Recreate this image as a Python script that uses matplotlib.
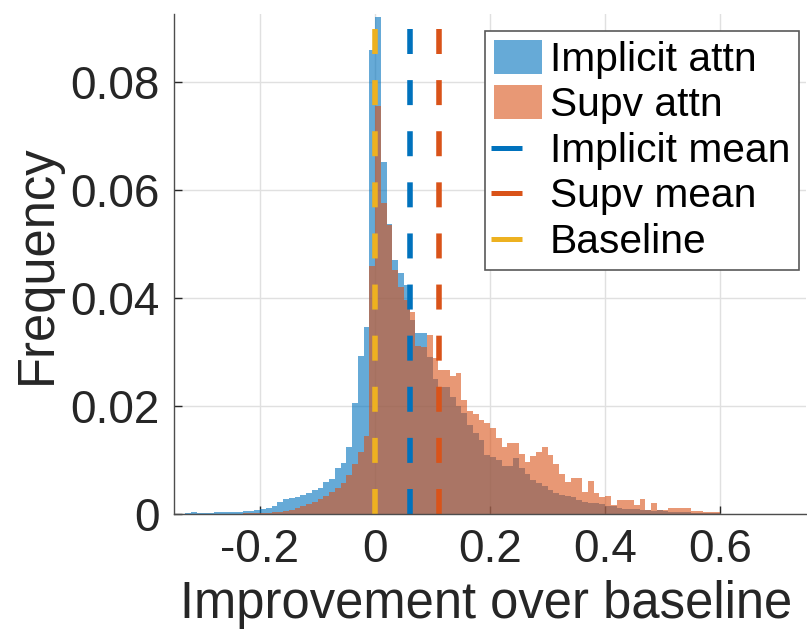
import numpy as np
import matplotlib
matplotlib.use("Agg")
import matplotlib.pyplot as plt
from matplotlib.lines import Line2D
from matplotlib.patches import Patch
from matplotlib.legend_handler import HandlerBase

# histogram bin heights (probability), bin width 0.01
bin_width = 0.01
implicit_start = -0.33
implicit_freq = [
    0.0002, 0.0003, 0.0002, 0.0002, 0.0002, 0.0003, 0.0003, 0.0004, 0.0003, 0.0004,
    0.0005, 0.0005, 0.0007, 0.0010, 0.0012, 0.0015, 0.0023, 0.0027, 0.0029, 0.0032,
    0.0035, 0.0038, 0.0044, 0.0049, 0.0060, 0.0064, 0.0085, 0.0094, 0.0125, 0.0205,
    0.0293, 0.0347, 0.0859, 0.0920, 0.0651, 0.0537, 0.0470, 0.0447, 0.0424, 0.0360,
    0.0335, 0.0335, 0.0290, 0.0250, 0.0236, 0.0236, 0.0217, 0.0200, 0.0187, 0.0165,
    0.0150, 0.0137, 0.0110, 0.0105, 0.0100, 0.0088, 0.0088, 0.0103, 0.0086, 0.0075,
    0.0063, 0.0057, 0.0052, 0.0044, 0.0038, 0.0035, 0.0033, 0.0032, 0.0026, 0.0023,
    0.0021, 0.0020, 0.0018, 0.0015, 0.0014, 0.0012, 0.0010, 0.0010, 0.0010, 0.0007,
    0.0007, 0.0006, 0.0007, 0.0005, 0.0004, 0.0003, 0.0003, 0.0003, 0.0002, 0.0002,
    0.0002, 0.0001, 0.0001,
]
supv_start = -0.23
supv_freq = [
    0.0001, 0.0002, 0.0002, 0.0002, 0.0002, 0.0003, 0.0004, 0.0006, 0.0008, 0.0011,
    0.0014, 0.0018, 0.0022, 0.0027, 0.0033, 0.0040, 0.0048, 0.0058, 0.0072, 0.0092,
    0.0115, 0.0145, 0.0460, 0.0756, 0.0576, 0.0535, 0.0452, 0.0420, 0.0396, 0.0375,
    0.0312, 0.0310, 0.0331, 0.0289, 0.0267, 0.0267, 0.0256, 0.0261, 0.0212, 0.0190,
    0.0186, 0.0175, 0.0168, 0.0160, 0.0140, 0.0125, 0.0132, 0.0132, 0.0112, 0.0097,
    0.0108, 0.0115, 0.0125, 0.0110, 0.0092, 0.0075, 0.0060, 0.0066, 0.0066, 0.0040,
    0.0062, 0.0038, 0.0032, 0.0033, 0.0017, 0.0026, 0.0026, 0.0026, 0.0017, 0.0027,
    0.0007, 0.0021, 0.0007, 0.0007, 0.0011, 0.0011, 0.0011, 0.0011, 0.0006, 0.0006,
    0.0004, 0.0004, 0.0004,
]
implicit_mean = 0.061
supv_mean = 0.111
baseline = 0.0

legend_labels = ["Implicit attn", "Supv attn", "Implicit mean", "Supv mean", "Baseline"]
xtick_vals = [-0.2, 0, 0.2, 0.4, 0.6]
xtick_labels = ["-0.2", "0", "0.2", "0.4", "0.6"]
ytick_vals = [0, 0.02, 0.04, 0.06, 0.08]
ytick_labels = ["0", "0.02", "0.04", "0.06", "0.08"]

c_blue = "#0072BD"
c_orange = "#D95319"
c_yellow = "#EDB120"
c_text = "#262626"

plt.rcParams["font.family"] = ["Liberation Sans", "DejaVu Sans"]


class ShortLine(HandlerBase):
    # matlab draws the line handles shorter than the patch handles
    def create_artists(self, legend, orig_handle, xdescent, ydescent,
                       width, height, fontsize, trans):
        y = height / 2 - ydescent
        seg = Line2D([-xdescent - 0.06 * width, -xdescent + 0.58 * width], [y, y],
                     color=orig_handle.get_color(), lw=orig_handle.get_linewidth(),
                     solid_capstyle="butt")
        seg.set_transform(trans)
        return [seg]


def edges_for(start, n):
    return np.round(start + bin_width * np.arange(n + 1), 2)


fig = plt.figure(figsize=(8.07, 6.31), dpi=100)
ax = fig.add_axes([173.75 / 807, (631 - 514) / 631, 632.5 / 807, 500 / 631])

ax.stairs(implicit_freq, edges_for(implicit_start, len(implicit_freq)),
          fill=True, color=c_blue, alpha=0.6, lw=0)
ax.stairs(supv_freq, edges_for(supv_start, len(supv_freq)),
          fill=True, color=c_orange, alpha=0.6, lw=0)

dash = (4.5, 4.7)
ax.axvline(implicit_mean, color=c_blue, lw=4, dashes=dash)
ax.axvline(supv_mean, color=c_orange, lw=4, dashes=dash)
ax.axvline(baseline, color=c_yellow, lw=4, dashes=dash)

ax.set_xlim(-0.35, 0.75)
ax.set_ylim(0, 0.0926)
ax.set_xticks(xtick_vals)
ax.set_xticklabels(xtick_labels)
ax.set_yticks(ytick_vals)
ax.set_yticklabels(ytick_labels)
ax.tick_params(direction="in", length=6, width=1, colors=c_text,
               labelsize=33, pad=10)

ax.grid(True, color="#e0e0e0", lw=1)
ax.set_axisbelow(True)
for side in ["top", "right"]:
    ax.spines[side].set_visible(False)
for side in ["left", "bottom"]:
    ax.spines[side].set_color("0.3")
    ax.spines[side].set_linewidth(1)

ax.set_xlabel("Improvement over baseline", fontsize=36.5, color=c_text)
ax.xaxis.set_label_coords(0.4937, -0.132)
ax.set_ylabel("Frequency", fontsize=36.5, color=c_text)
ax.yaxis.set_label_coords(-0.177, 0.5)

handles = [
    Patch(facecolor=c_blue, alpha=0.6, edgecolor="none"),
    Patch(facecolor=c_orange, alpha=0.6, edgecolor="none"),
    Line2D([], [], color=c_blue, lw=3.6),
    Line2D([], [], color=c_orange, lw=3.6),
    Line2D([], [], color=c_yellow, lw=3.6),
]
leg = ax.legend(handles, legend_labels, loc="upper left",
                bbox_to_anchor=(485 / 807, 1 - 31 / 631),
                bbox_transform=fig.transFigure, fontsize=29.3,
                frameon=True, fancybox=False, edgecolor="0.35", framealpha=1,
                borderpad=0.22, labelspacing=0.16, handlelength=1.18,
                handleheight=0.9, handletextpad=0.2, borderaxespad=0,
                handler_map={Line2D: ShortLine()})
leg.get_frame().set_linewidth(1.2)

fig.savefig("out.png", dpi=100)
